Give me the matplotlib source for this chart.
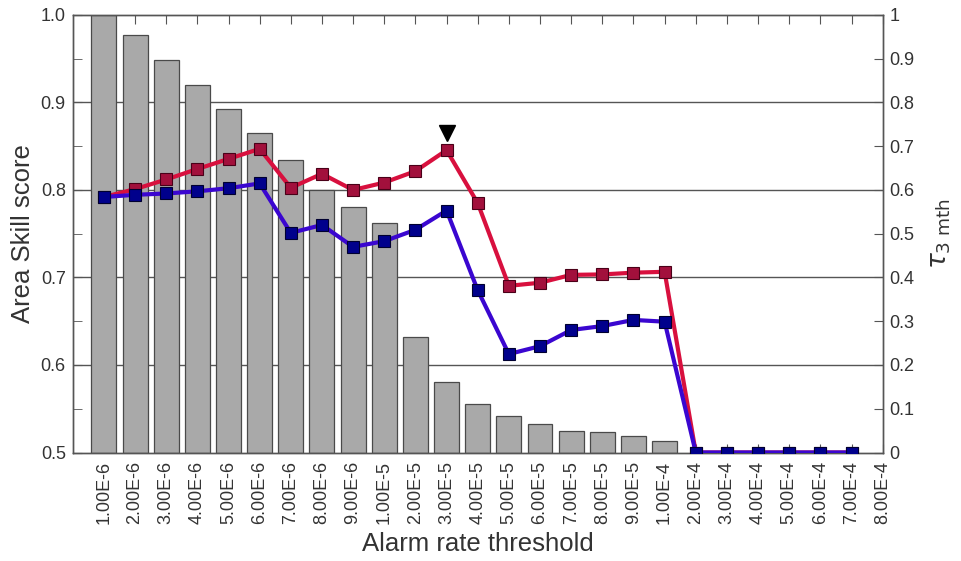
import matplotlib
matplotlib.use("Agg")
import matplotlib.pyplot as plt
from matplotlib.ticker import FixedLocator
import numpy as np

plt.rcParams['font.family'] = ['Liberation Sans', 'DejaVu Sans']

categories = ["1.00E-6", "2.00E-6", "3.00E-6", "4.00E-6", "5.00E-6", "6.00E-6",
              "7.00E-6", "8.00E-6", "9.00E-6", "1.00E-5", "2.00E-5", "3.00E-5",
              "4.00E-5", "5.00E-5", "6.00E-5", "7.00E-5", "8.00E-5", "9.00E-5",
              "1.00E-4", "2.00E-4", "3.00E-4", "4.00E-4", "5.00E-4", "6.00E-4",
              "7.00E-4", "8.00E-4"]

# Area skill score bars (left axis), available for first 19 thresholds
ass = [1.000, 0.977, 0.949, 0.920, 0.892, 0.865, 0.834, 0.800, 0.781, 0.762,
       0.632, 0.581, 0.555, 0.542, 0.533, 0.525, 0.523, 0.519, 0.513]

# tau (right axis), 25 points (no value at 8.00E-4)
tau_red = [0.584, 0.602, 0.624, 0.648, 0.671, 0.694, 0.605, 0.637, 0.600, 0.617,
           0.643, 0.691, 0.570, 0.381, 0.388, 0.406, 0.407, 0.411, 0.413,
           0, 0, 0, 0, 0, 0]
tau_blue = [0.584, 0.589, 0.592, 0.597, 0.604, 0.615, 0.502, 0.520, 0.470, 0.483,
            0.509, 0.553, 0.371, 0.225, 0.243, 0.280, 0.289, 0.303, 0.299,
            0, 0, 0, 0, 0, 0]
best_idx = 11
best_marker_tau = 0.730

left_ticks = [0.5, 0.6, 0.7, 0.8, 0.9, 1.0]
left_labels = ["0.5", "0.6", "0.7", "0.8", "0.9", "1.0"]
right_ticks = [0, 0.1, 0.2, 0.3, 0.4, 0.5, 0.6, 0.7, 0.8, 0.9, 1.0]
right_labels = ["0", "0.1", "0.2", "0.3", "0.4", "0.5", "0.6", "0.7", "0.8", "0.9", "1"]

fig = plt.figure(figsize=(9.61, 5.61), dpi=100)
ax = fig.add_axes([0.0757, 0.1934, 0.9185 - 0.0757, 0.9733 - 0.1934])
ax2 = ax.twinx()

txtc = '#333333'
spc = '#555555'

x_all = np.arange(len(categories))
for g in [0.6, 0.7, 0.8, 0.9]:
    ax.axhline(g, color='#555555', lw=1.0, zorder=0)

xb = np.arange(len(ass))
ax.bar(xb, np.array(ass) - 0.5, bottom=0.5, width=0.8, color='#a9a9a9',
       edgecolor='#4a4a4a', linewidth=0.9, zorder=2)

ax.set_xlim(-1, len(categories) - 1)
ax.set_ylim(0.5, 1.0)
ax.yaxis.set_major_locator(FixedLocator(left_ticks))
ax.yaxis.set_minor_locator(FixedLocator([0.55, 0.65, 0.75, 0.85, 0.95]))
ax.set_yticklabels(left_labels)
ax.set_xticks(x_all)
ax.set_xticklabels(categories, rotation=90)
ax.tick_params(axis='x', direction='in', top=True, bottom=True, length=6.5,
               color=spc, labelsize=13, labelcolor=txtc, pad=6)
ax.tick_params(axis='y', which='both', direction='in', length=6.5, color=spc,
               labelsize=13, labelcolor=txtc, right=False, pad=5)
ax.set_xlabel("Alarm rate threshold", fontsize=18.5, color=txtc, labelpad=6)
ax.set_ylabel("Area Skill score", fontsize=18.5, color=txtc, labelpad=4)

xl = np.arange(len(tau_red))
ax2.plot(xl, tau_red, color='#d8103e', lw=3.0, marker='s', markersize=8,
         markerfacecolor='#a2103c', markeredgecolor='#4a0018', markeredgewidth=0.8,
         zorder=3)
ax2.plot(xl, tau_blue, color='#3a06d0', lw=3.0, marker='s', markersize=8,
         markerfacecolor='#00008c', markeredgecolor='#000030', markeredgewidth=0.8,
         zorder=4)
ax2.plot([best_idx], [best_marker_tau], marker='v', color='black', markersize=11,
         linestyle='none', zorder=5)
ax2.set_ylim(0, 1)
ax2.yaxis.set_major_locator(FixedLocator(right_ticks))
ax2.set_yticklabels(right_labels)
ax2.tick_params(axis='y', direction='in', length=6.5, color=spc, labelsize=13,
                labelcolor=txtc, pad=5)
ax2.set_ylabel(r'$\tau_{3\ \mathrm{mth}}$', fontsize=19, color=txtc, labelpad=10)

for a in (ax, ax2):
    for s in a.spines.values():
        s.set_color(spc)
        s.set_linewidth(1.0)
ax.set_zorder(ax2.get_zorder() - 1)
ax2.patch.set_visible(False)

fig.savefig("out.png", dpi=100)
